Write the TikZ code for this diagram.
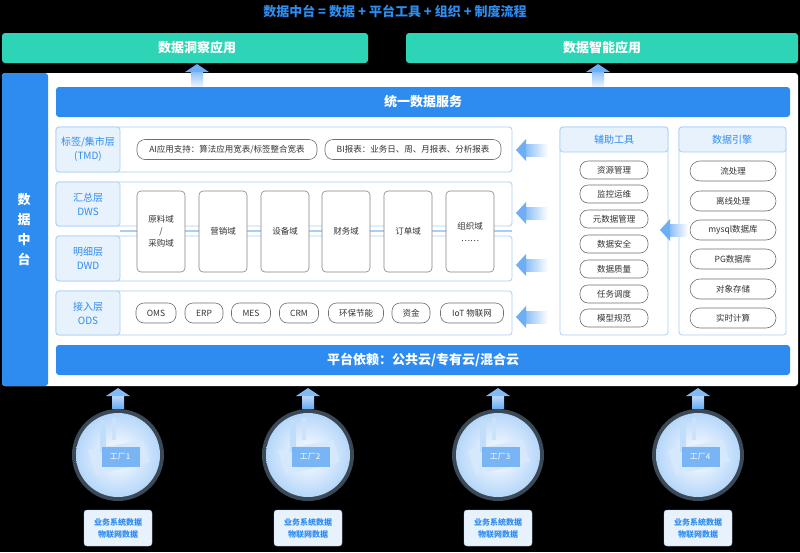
\documentclass[tikz,border=0pt]{standalone}
\usepackage{fontspec}
\setmainfont{Noto Sans CJK SC}
\usetikzlibrary{shapes.geometric}
\definecolor{bl}{HTML}{2E8CF0}
\definecolor{gr}{HTML}{2DD4B6}
\definecolor{lb}{HTML}{A9CFF5}
\definecolor{pale}{HTML}{E8F2FD}
\definecolor{tx}{HTML}{333333}
\begin{document}
\begin{tikzpicture}[x=1pt,y=-1pt,
  box/.style={draw=lb,line width=0.8pt,rounded corners=3pt,fill=white},
  lab/.style={draw=lb,line width=0.8pt,rounded corners=3pt,fill=pale,text=bl,font=\fontsize{10}{12}\selectfont,align=center},
  pill/.style={draw=tx!70,line width=0.6pt,rounded corners=8pt,fill=white,text=tx,font=\fontsize{8.5}{9}\selectfont,minimum height=20pt,inner sep=2pt},
  dom/.style={draw=tx!60,line width=0.6pt,rounded corners=4pt,fill=white,text=tx,font=\fontsize{8.5}{12}\selectfont,minimum width=48pt,minimum height=81pt,align=center},
  link/.style={draw=lb,line width=1.2pt},
  dbox/.style={fill=pale,draw=lb,rounded corners=3pt,text=bl,font=\bfseries\fontsize{8}{12}\selectfont,align=center,minimum width=68pt,minimum height=36pt}]
\fill[black] (0,0) rectangle (800,552);
\useasboundingbox (0,0) rectangle (800,552);
\node[text=bl,font=\bfseries\fontsize{13}{15}\selectfont] (title) at (395,11) {数据中台 = 数据 + 平台工具 + 组织 + 制度流程};
\fill[gr,rounded corners=3pt] (2,33) rectangle (368,63);
\node[text=white,font=\bfseries\fontsize{13}{15}\selectfont] (app1) at (197,48) {数据洞察应用};
\fill[gr,rounded corners=3pt] (406,33) rectangle (798,63);
\node[text=white,font=\bfseries\fontsize{13}{15}\selectfont] (app2) at (602,48) {数据智能应用};
% main panel
\fill[white,rounded corners=3pt] (2,73) rectangle (798,386);
\fill[bl,rounded corners=3pt] (2,73) rectangle (48,386);
\node[text=white,font=\bfseries\fontsize{13}{20}\selectfont,align=center] (dz) at (24,230) {数\\据\\中\\台};
% up arrows to apps
\foreach \x in {197,598}{
  \shade[top color=bl!60,bottom color=bl!10] (\x-6,70) rectangle (\x+6,86);
  \fill[bl!70] (\x-12,72) -- (\x,64) -- (\x+12,72) -- cycle;
}
\fill[bl,rounded corners=3pt] (56,87) rectangle (790,117);
\node[text=white,font=\bfseries\fontsize{13}{15}\selectfont] (uds) at (423,102) {统一数据服务};
% layers
\foreach \ya/\yb in {127/172,182/226,236/281,291/335}{
  \draw[box] (56,\ya) rectangle (512,\yb);
  \draw[lab] (56,\ya) rectangle (120,\yb);
}
\node[text=bl,font=\fontsize{10}{14}\selectfont,align=center] (tmd) at (88,149.5) {标签/集市层\\(TMD)};
\node[text=bl,font=\fontsize{10}{14}\selectfont,align=center] (dws) at (88,204) {汇总层\\DWS};
\node[text=bl,font=\fontsize{10}{14}\selectfont,align=center] (dwd) at (88,258.5) {明细层\\DWD};
\node[text=bl,font=\fontsize{10}{14}\selectfont,align=center] (ods) at (88,313) {接入层\\ODS};
\node[pill,minimum width=180pt] (ai) at (227,149.5) {AI应用支持：算法应用宽表/标签整合宽表};
\node[pill,minimum width=176pt] (bi) at (413,149.5) {BI报表：业务日、周、月报表、分析报表};
\draw[link] (120,231) -- (512,231);
\node[dom] (d1) at (161,231.5) {原料域\\/\\采购域};
\node[dom] (d2) at (223,231.5) {营销域};
\node[dom] (d3) at (285,231.5) {设备域};
\node[dom] (d4) at (346,231.5) {财务域};
\node[dom] (d5) at (408,231.5) {订单域};
\node[dom] (d6) at (470,231.5) {组织域\\……};
\foreach \n/\x/\w/\t in {o1/156/40/OMS,o2/204/38/ERP,o3/251/39/MES,o4/299/39/CRM,o5/356/55/环保节能,o6/411/38/资金,o7/472/63/IoT 物联网}{
  \node[pill,minimum width=\w pt] (\n) at (\x,313) {\t};
}
% left arrows
\foreach \y in {150,213,265,317}{
  \shade[left color=bl!60,right color=white] (524,\y-6) rectangle (548,\y+6);
  \fill[bl!70] (526,\y-11) -- (516,\y) -- (526,\y+11) -- cycle;
}
% tools
\draw[box] (560,127) rectangle (668,335);
\draw[lab] (560,127) rectangle (668,152);
\node[text=bl,font=\fontsize{10}{12}\selectfont] (tools) at (614,139.5) {辅助工具};
\foreach \n/\y/\t in {t1/170/资源管理,t2/194/监控运维,t3/219/元数据管理,t4/244/数据安全,t5/269/数据质量,t6/294/任务调度,t7/318/模型规范}{
  \node[pill,minimum width=68pt,minimum height=18pt] (\n) at (614,\y) {\t};
}
\draw[box] (679,127) rectangle (786,335);
\draw[lab] (679,127) rectangle (786,152);
\node[text=bl,font=\fontsize{10}{12}\selectfont] (eng) at (732,139.5) {数据引擎};
\foreach \n/\y/\t in {e1/171/流处理,e2/201/离线处理,e3/230/mysql数据库,e4/259/PG数据库,e5/289/对象存储,e6/318/实时计算}{
  \node[pill,minimum width=86pt,minimum height=20pt,rounded corners=10pt] (\n) at (733,\y) {\t};
}
\shade[left color=bl!60,right color=white] (668,224) rectangle (688,236);
\fill[bl!70] (670,219) -- (660,230) -- (670,241) -- cycle;
% platform
\fill[bl,rounded corners=3pt] (56,345) rectangle (790,375);
\node[text=white,font=\bfseries\fontsize{13}{15}\selectfont] (plat) at (423,360) {平台依赖：公共云/专有云/混合云};
% factories
\foreach \n/\x/\k in {f1/118/1,f2/308/2,f3/498/3,f4/698/4}{
  \shade[top color=bl!20,bottom color=bl!70] (\x-6,392) rectangle (\x+6,408);
  \fill[bl!60] (\x-12,396) -- (\x,388) -- (\x+12,396) -- cycle;
  \fill[bl!40,opacity=0.35] (\x,455) circle (46);
  \shade[inner color=white,outer color=bl!35] (\x,455) circle (42);
  \fill[white!80!bl] (\x-30,450) -- (\x+25,440) -- (\x+32,462) -- (\x-22,475) -- cycle;
  \fill[bl!30] (\x-18,420) rectangle (\x-12,452);
  \fill[bl!25] (\x-6,418) rectangle (\x-2,440);
  \fill[bl!75,opacity=0.8] (\x-16,447) rectangle (\x+22,467);
  \node[text=white,font=\fontsize{8}{9}\selectfont] (\n) at (\x+2,457) {工厂\k};
  \node[dbox] at (\x,528) {业务系统数据\\物联网数据};
}
\end{tikzpicture}
\end{document}
